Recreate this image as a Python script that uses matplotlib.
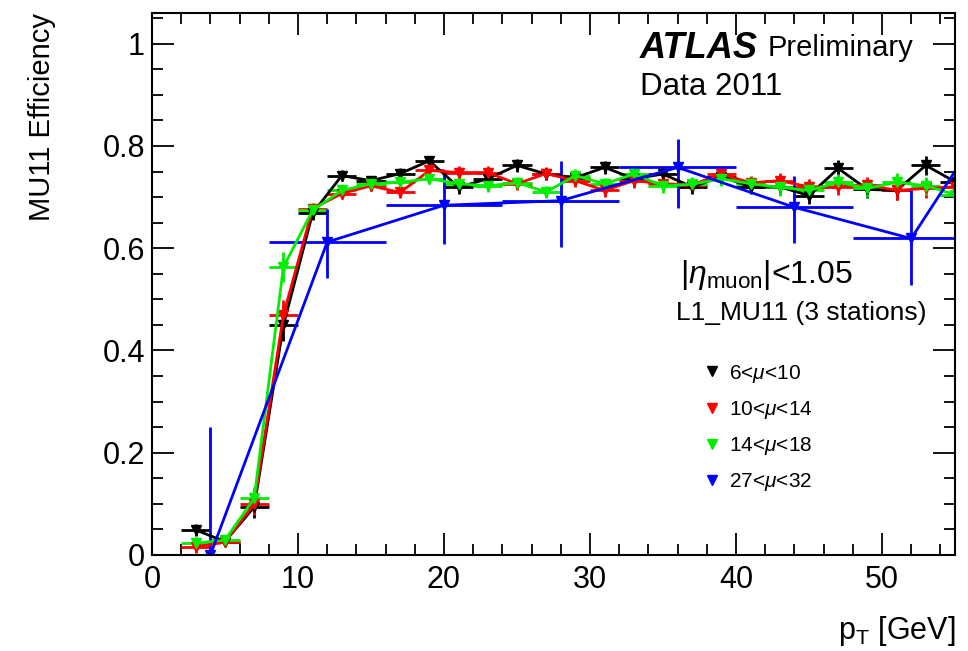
import matplotlib.pyplot as plt
from matplotlib.lines import Line2D
from matplotlib.ticker import MultipleLocator

plt.rcParams['font.family'] = ['Liberation Sans', 'DejaVu Sans']
plt.rcParams['mathtext.fontset'] = 'custom'
plt.rcParams['mathtext.rm'] = 'Liberation Sans'
plt.rcParams['mathtext.it'] = 'Liberation Sans:italic'

# bins of 2 GeV for the low-pileup samples
pt = [3, 5, 7, 9, 11, 13, 15, 17, 19, 21, 23, 25, 27, 29,
      31, 33, 35, 37, 39, 41, 43, 45, 47, 49, 51, 53, 55]
eff_6_10 = [0.049, 0.026, 0.094, 0.449, 0.668, 0.742, 0.732, 0.746, 0.771, 0.719, 0.736, 0.762, 0.745, 0.738,
            0.758, 0.736, 0.745, 0.720, 0.740, 0.720, 0.720, 0.703, 0.756, 0.715, 0.713, 0.762, 0.730]
eff_10_14 = [0.016, 0.025, 0.100, 0.469, 0.677, 0.707, 0.722, 0.709, 0.752, 0.748, 0.748, 0.726, 0.746, 0.732,
             0.713, 0.732, 0.726, 0.724, 0.745, 0.728, 0.732, 0.720, 0.720, 0.724, 0.713, 0.717, 0.720]
eff_14_18 = [0.023, 0.029, 0.111, 0.563, 0.674, 0.713, 0.726, 0.729, 0.736, 0.726, 0.722, 0.728, 0.710, 0.742,
             0.726, 0.745, 0.722, 0.725, 0.736, 0.726, 0.719, 0.713, 0.729, 0.717, 0.729, 0.722, 0.705]
err_fine = [0.012, 0.008, 0.022, 0.030, 0.012, 0.010, 0.010, 0.010, 0.010, 0.012, 0.012, 0.012, 0.012, 0.012,
            0.012, 0.014, 0.014, 0.014, 0.014, 0.014, 0.016, 0.016, 0.016, 0.016, 0.018, 0.018, 0.018]

# bins of 8 GeV for the high-pileup sample
pt_wide = [4, 12, 20, 28, 36, 44, 52, 60]
eff_27_32 = [0.0, 0.612, 0.684, 0.693, 0.758, 0.680, 0.619, 0.97]
err_27_32_lo = [0.0, 0.07, 0.075, 0.09, 0.08, 0.07, 0.09, 0.05]
err_27_32_hi = [0.25, 0.065, 0.065, 0.078, 0.055, 0.062, 0.095, 0.03]

fig = plt.figure(figsize=(9.68, 6.51), dpi=100)
ax = fig.add_axes([0.157, 0.1475, 0.8296, 0.8325])

series = [(eff_6_10, 'black', r'6<$\mu$<10'),
          (eff_10_14, 'red', r'10<$\mu$<14'),
          (eff_14_18, '#00ee00', r'14<$\mu$<18')]
for eff, col, lab in series:
    ax.errorbar(pt, eff, xerr=1, yerr=err_fine, fmt='-v', color=col, ms=7, lw=2,
                elinewidth=2, capsize=0)
ax.errorbar(pt_wide, eff_27_32, xerr=4, yerr=[err_27_32_lo, err_27_32_hi], fmt='-v',
            color='#0000ff', ms=7, lw=2, elinewidth=2, capsize=0)

ax.set_xlim(0, 55)
ax.set_ylim(0, 1.06)
ax.xaxis.set_major_locator(MultipleLocator(10))
ax.xaxis.set_minor_locator(MultipleLocator(2))
ax.yaxis.set_minor_locator(MultipleLocator(0.05))
ax.set_yticks([0, 0.2, 0.4, 0.6, 0.8, 1.0])
ax.set_yticklabels(['0', '0.2', '0.4', '0.6', '0.8', '1'])
ax.tick_params(which='both', direction='in', top=True, right=True, labelsize=22, width=1.3)
ax.tick_params(which='major', length=16, pad=5)
ax.tick_params(which='minor', length=8)
ax.tick_params(axis='x', which='major', pad=7)
for s in ax.spines.values():
    s.set_linewidth(1.5)

ax.set_xlabel(r'p$_{\rm T}$ [GeV]', fontsize=22, loc='right', va='top')
ax.xaxis.set_label_coords(1.0, -0.108)
ax.set_ylabel('MU11 Efficiency', fontsize=21, loc='top')
ax.yaxis.set_label_coords(-0.119, 1.0)

ax.text(0.608, 0.935, 'ATLAS', transform=ax.transAxes, fontsize=26,
        fontweight='bold', fontstyle='italic', va='center')
ax.text(0.767, 0.935, 'Preliminary', transform=ax.transAxes, fontsize=21, va='center')
ax.text(0.608, 0.863, 'Data 2011', transform=ax.transAxes, fontsize=22.5, va='center')
ax.text(0.657, 0.517, r'|$\eta_{\rm muon}$|<1.05', transform=ax.transAxes, fontsize=23, va='center')
ax.text(0.652, 0.446, 'L1_MU11 (3 stations)', transform=ax.transAxes, fontsize=19, va='center')

handles = [Line2D([], [], marker='v', ls='none', color=c, ms=7)
           for c in ['black', 'red', '#00ee00', '#0000ff']]
labels = [s[2] for s in series] + [r'27<$\mu$<32']
ax.legend(handles, labels, loc='upper left', bbox_to_anchor=(0.677, 0.37), frameon=False,
          fontsize=15, handlelength=0.8, handletextpad=0.4, labelspacing=0.68,
          borderaxespad=0)

fig.savefig('out.png', dpi=100)
